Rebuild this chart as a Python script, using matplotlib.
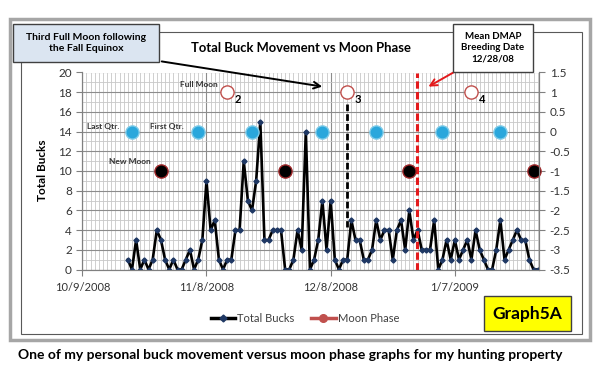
import datetime
import matplotlib
matplotlib.use('Agg')
import matplotlib.pyplot as plt
import matplotlib.dates as mdates
from matplotlib.ticker import FixedLocator, MultipleLocator
from matplotlib.patches import Rectangle, FancyArrowPatch
from matplotlib.lines import Line2D

plt.rcParams['font.family'] = ['Lato', 'DejaVu Sans']

# daily buck counts, starting 10/20/2008
start_day = datetime.datetime(2008, 10, 20)
bucks = [1, 0, 3, 0, 1, 0, 1, 4, 3, 1,
         0, 1, 0, 0, 1, 2, 0, 1, 3, 9,
         4, 5, 1, 0, 1, 1, 4, 4, 11, 7,
         6, 9, 15, 3, 3, 4, 4, 4, 0, 0,
         1, 4, 2, 14, 0, 1, 3, 7, 2, 7,
         1, 0, 1, 1, 5, 3, 3, 1, 1, 2,
         5, 3, 4, 4, 1, 4, 5, 2, 6, 3,
         4, 2, 2, 2, 5, 0, 1, 3, 1, 3,
         1, 2, 3, 1, 4, 2, 1, 0, 0, 2,
         5, 1, 2, 3, 4, 3, 3, 1, 0, 0]
days = [start_day + datetime.timedelta(days=i) for i in range(len(bucks))]

# moon phase series (right axis)
full_moon = [datetime.datetime(2008, 11, 13), datetime.datetime(2008, 12, 12), datetime.datetime(2009, 1, 11)]
full_moon_num = ['2', '3', '4']
full_val = 1
quarters = [datetime.datetime(2008, 10, 21), datetime.datetime(2008, 11, 6), datetime.datetime(2008, 11, 19),
            datetime.datetime(2008, 12, 6), datetime.datetime(2008, 12, 19), datetime.datetime(2009, 1, 4),
            datetime.datetime(2009, 1, 18)]
quarter_val = 0
new_moon = [datetime.datetime(2008, 10, 28), datetime.datetime(2008, 11, 27), datetime.datetime(2008, 12, 27),
            datetime.datetime(2009, 1, 26)]
new_val = -1

tick_dates = [datetime.datetime(2008, 10, 9), datetime.datetime(2008, 11, 8),
              datetime.datetime(2008, 12, 8), datetime.datetime(2009, 1, 7)]
tick_labels = ['10/9/2008', '11/8/2008', '12/8/2008', '1/7/2009']
breeding_date = datetime.datetime(2008, 12, 28, 21)


def fx(x):
    return x / 600.0


def fy(y):
    return 1 - y / 378.0


fig = plt.figure(figsize=(6, 3.78), dpi=100)
ax = fig.add_axes([fx(82.3), fy(269.5), fx(539.3) - fx(82.3), fy(72.5) - fy(269.5)])
ax2 = ax.twinx()

x0 = mdates.date2num(tick_dates[0])
ax.set_xlim(x0, x0 + 110.4)
ax.set_ylim(0, 20)
ax2.set_ylim(-3.5, 1.5)

ax.xaxis.set_major_locator(FixedLocator(mdates.date2num(tick_dates)))
ax.set_xticklabels(tick_labels)
ax.xaxis.set_minor_locator(MultipleLocator(1))
ax.yaxis.set_major_locator(MultipleLocator(2))
ax.yaxis.set_minor_locator(MultipleLocator(1))
ax2.yaxis.set_major_locator(MultipleLocator(0.5))
ax2.set_yticklabels(['%g' % v for v in ax2.get_yticks()])

ax.grid(True, which='minor', color='#c8c8c8', lw=0.6)
ax.grid(True, which='major', color='#8c8c8c', lw=0.8)
ax.set_axisbelow(True)

for a in (ax, ax2):
    a.spines['top'].set_visible(False)
    a.spines['left'].set_color('#808080')
    a.spines['right'].set_color('#808080')
    a.spines['bottom'].set_color('#808080')
    a.tick_params(which='major', length=4, color='#808080', labelsize=8.5, labelcolor='#333333')
    a.tick_params(which='minor', length=0)
ax.tick_params(axis='x', labelsize=8, pad=5)

# buck line
ax.plot(days, bucks, color='black', lw=1.9, marker='D', ms=2.6, mfc='#1f3864', mec='#1f3864', zorder=3)

# full moon marker dashed line and breeding date line
ax.plot([full_moon[1], full_moon[1]], [16.8, 4.3], color='black', lw=2, ls=(0, (2.4, 1.1)), zorder=4)
ax.axvline(breeding_date, color='#e31a1c', lw=2.2, ls=(0, (2.4, 1.1)), zorder=4)

# moon phase markers
ax2.plot(full_moon, [full_val] * len(full_moon), ls='none', marker='o', ms=9.5,
         mfc='white', mec='#c0504d', mew=1)
ax2.plot(quarters, [quarter_val] * len(quarters), ls='none', marker='o', ms=9.5,
         mfc='#2aa7dc', mec='#7fcbe8', mew=1)
ax2.plot(new_moon, [new_val] * len(new_moon), ls='none', marker='o', ms=9.5,
         mfc='black', mec='#a0282a', mew=1, clip_on=False)

lab = dict(fontsize=6, fontweight='bold', color='#333333', va='center')
ax2.text(full_moon[0] - datetime.timedelta(days=2.2), 1.2, 'Full Moon', ha='right', **lab)
ax2.text(quarters[0] - datetime.timedelta(days=3), 0.12, 'Last Qtr.', ha='right', **lab)
ax2.text(quarters[1] - datetime.timedelta(days=3.4), 0.12, 'First Qtr.', ha='right', **lab)
ax2.text(new_moon[0] - datetime.timedelta(days=2.4), -0.77, 'New Moon', ha='right', **lab)
for d, n in zip(full_moon, full_moon_num):
    ax2.text(d + datetime.timedelta(days=2.6), 0.82, n, ha='center', va='center',
             fontsize=8, fontweight='bold', color='black')

# titles / labels
fig.text(fx(301), fy(48), 'Total Buck Movement vs Moon Phase', ha='center', va='center',
         fontsize=9.4, fontweight='bold', color='black')
fig.text(fx(42.5), fy(170), 'Total Bucks', ha='center', va='center', rotation=90,
         fontsize=8.5, fontweight='bold', color='black')

# legend
handles = [Line2D([], [], color='black', lw=2.5, marker='D', ms=3.5, mfc='#1f3864', mec='#1f3864'),
           Line2D([], [], color='#c0504d', lw=2.5, marker='o', ms=5.5)]
fig.legend(handles, ['Total Bucks', 'Moon Phase'], loc='center', bbox_to_anchor=(fx(305), fy(318)),
           ncol=2, frameon=False, fontsize=8, handlelength=2.2, handletextpad=0.2,
           columnspacing=1.5, labelcolor='#404040')

# chart frames
fig.add_artist(Rectangle((fx(10), fy(340)), fx(580), 321 / 378.0, transform=fig.transFigure,
                         fill=False, ec='#a6a6a6', lw=2.5, zorder=1))
fig.add_artist(Rectangle((fx(20.5), fy(334)), fx(561.5), 302.5 / 378.0, transform=fig.transFigure,
                         fill=False, ec='#595959', lw=0.8, zorder=1))

# callouts
fig.add_artist(FancyArrowPatch((fx(159), fy(61)), (fx(325), fy(87)), transform=fig.transFigure,
                               arrowstyle='->', mutation_scale=12, color='black', lw=1.4, zorder=5))
fig.add_artist(Rectangle((fx(13), fy(62)), fx(146), 38 / 378.0, transform=fig.transFigure,
                         fc='#dbe5f1', ec='#404040', lw=1, zorder=6))
fig.text(fx(86), fy(43), 'Third Full Moon following\nthe Fall Equinox', ha='center', va='center',
         fontsize=7.5, fontweight='bold', color='black', linespacing=1.3, zorder=7)

fig.add_artist(FancyArrowPatch((fx(456), fy(71)), (fx(426), fy(88)), transform=fig.transFigure,
                               arrowstyle='->', mutation_scale=12, color='#e31a1c', lw=1.4, zorder=5))
fig.add_artist(Rectangle((fx(453), fy(72)), fx(80), 48 / 378.0, transform=fig.transFigure,
                         fc='white', ec='#404040', lw=1, zorder=6))
fig.text(fx(493), fy(48), 'Mean DMAP\nBreeding Date\n12/28/08', ha='center', va='center',
         fontsize=7, fontweight='bold', color='black', linespacing=1.3, zorder=7)

fig.add_artist(Rectangle((fx(484), fy(331)), fx(87), 35 / 378.0, transform=fig.transFigure,
                         fc='#ffff00', ec='#404040', lw=1, zorder=6))
fig.text(fx(527.5), fy(313.5), 'Graph5A', ha='center', va='center',
         fontsize=12.5, fontweight='bold', color='black', zorder=7)

fig.text(fx(18), fy(355), 'One of my personal buck movement versus moon phase graphs for my hunting property',
         ha='left', va='center', fontsize=10.0, fontweight='bold', color='black')

fig.savefig('out.png', dpi=100)
